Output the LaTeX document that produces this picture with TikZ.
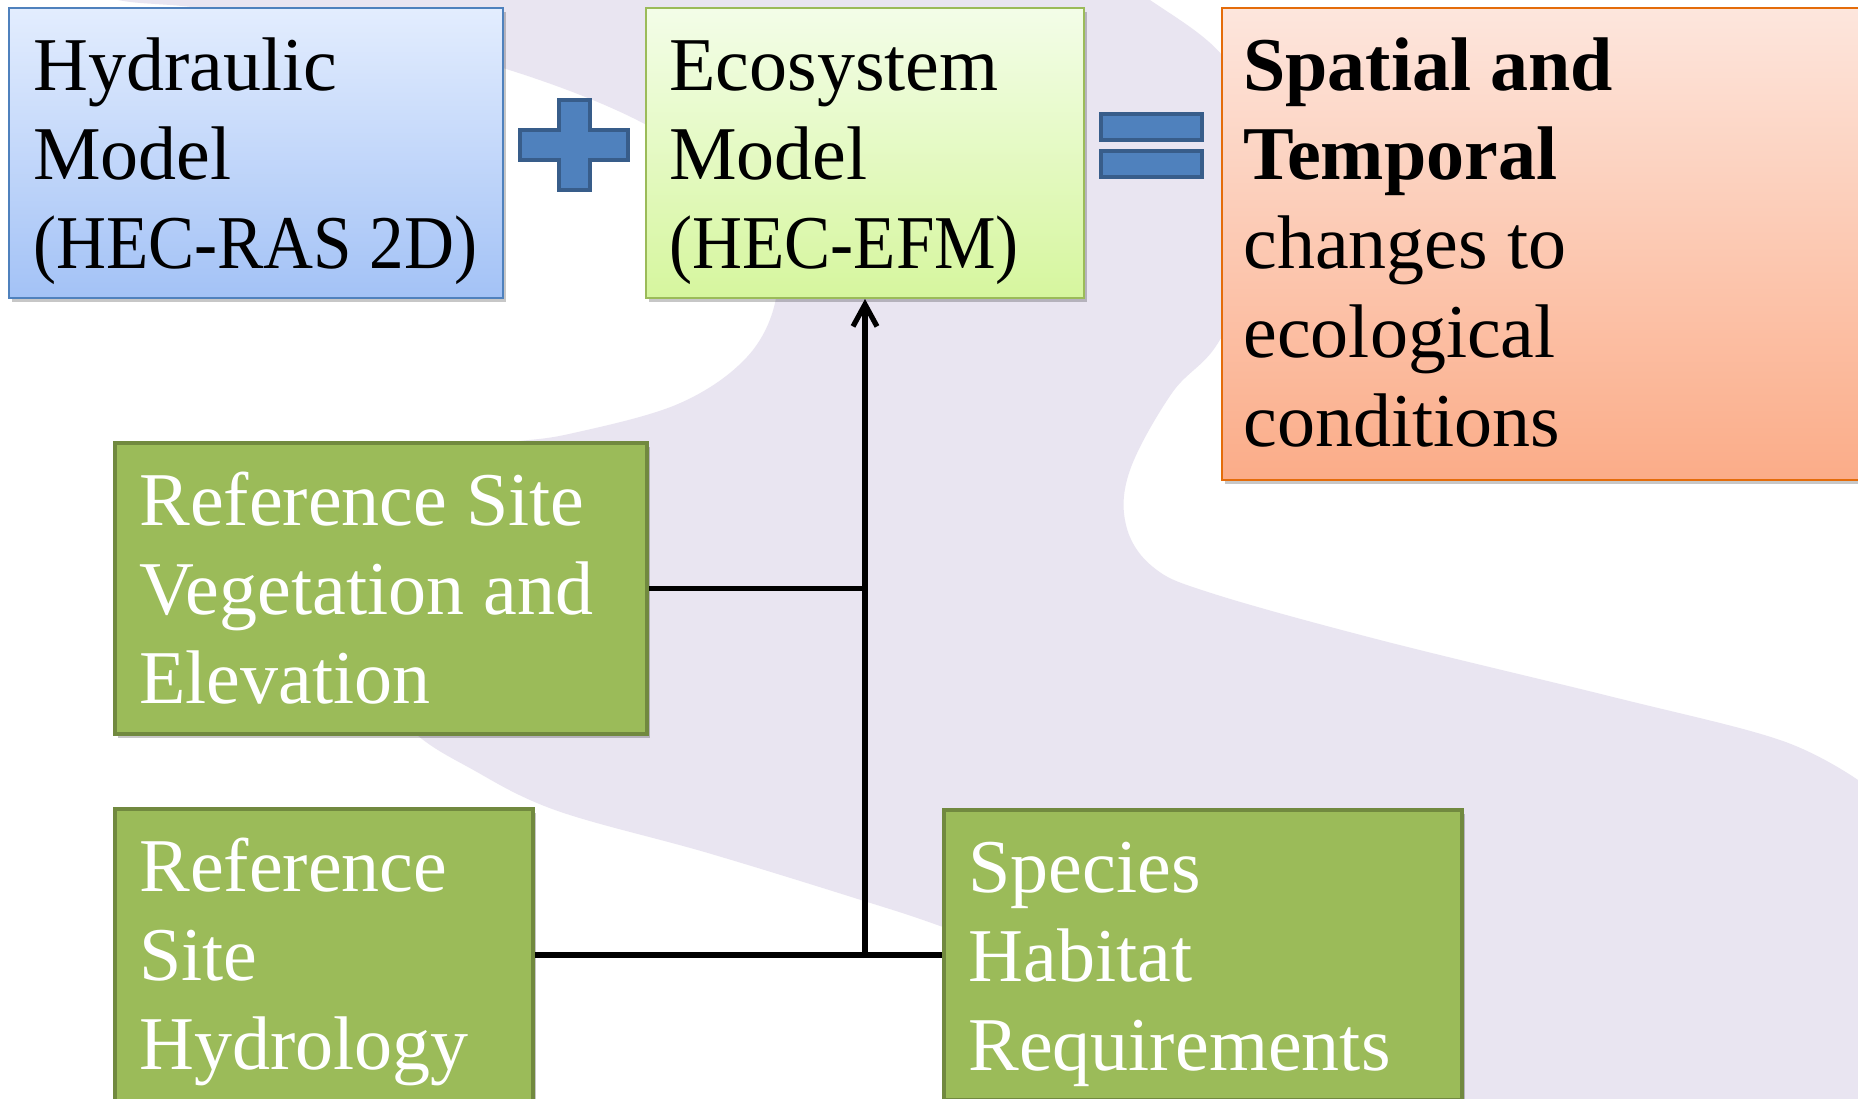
\documentclass[tikz,border=0pt]{standalone}
\usepackage{fontspec}
\usepackage{graphicx}
\setmainfont{Liberation Serif}
\usetikzlibrary{arrows.meta,shadows}
\definecolor{lav}{RGB}{233,229,241}
\definecolor{bluetop}{RGB}{227,237,254}
\definecolor{bluebot}{RGB}{163,194,246}
\definecolor{blueedge}{RGB}{79,129,189}
\definecolor{ecotop}{RGB}{243,253,232}
\definecolor{ecobot}{RGB}{214,246,158}
\definecolor{ecoedge}{RGB}{155,187,89}
\definecolor{restop}{RGB}{253,230,221}
\definecolor{resbot}{RGB}{251,172,136}
\definecolor{resedge}{RGB}{228,108,10}
\definecolor{grfill}{RGB}{155,187,89}
\definecolor{gredge}{RGB}{113,137,63}
\definecolor{symfill}{RGB}{79,129,189}
\definecolor{symedge}{RGB}{56,93,138}
\newcommand\bxtext[1]{\parbox[t]{340pt}{\raggedright\fontsize{38pt}{44.5pt}\selectfont #1}}
\newcommand\narrow[1]{\scalebox{0.91}[1]{#1}}
\begin{document}
\begin{tikzpicture}[x=0.5pt,y=-0.5pt,
  boxshadow/.style={drop shadow={shadow xshift=1.5pt,shadow yshift=-2pt,opacity=0.22,fill=black}},
  panel/.style={rectangle,inner sep=0pt,line width=1pt,boxshadow},
  bluebox/.style={panel,draw=blueedge,top color=bluetop,bottom color=bluebot},
  ecobox/.style={panel,draw=ecoedge,top color=ecotop,bottom color=ecobot},
  resbox/.style={panel,draw=resedge,top color=restop,bottom color=resbot},
  greenbox/.style={panel,draw=gredge,fill=grfill,line width=2pt},
  lbl/.style={anchor=base west,inner sep=0pt},
  conn/.style={line width=2.6pt,black},
  sym/.style={fill=symfill,draw=symedge,line width=1.8pt}]
\useasboundingbox (0,0) rectangle (1858,1098);
\clip (0,0) rectangle (1858,1098);
\fill[white] (0,0) rectangle (1858,1098);
% background band
\fill[lav] plot[smooth,tension=0.6] coordinates {(60,-20) (118,0) (200,8) (350,30) (503,68) (633,118) (720,175) (768,240) (776,298) (747,357) (678,404) (569,434) (506,443) (440,458) (385,510) (360,600) (375,690) (417,735) (468,767) (555,810) (708,853) (861,900) (943,927) (1100,985) (1300,1070) (1400,1130)}
  -- (1900,1130) -- (1900,810)
  -- plot[smooth,tension=0.6] coordinates {(1858,780) (1780,740) (1613,697) (1380,640) (1211,593) (1153,567) (1126,525) (1130,470) (1172,393) (1218,343) (1260,250) (1260,130) (1222,55) (1150,0) (1100,-30)} -- cycle;
% boxes
\node[bluebox,minimum width=247pt,minimum height=145pt] (hyd) at (256,153) {};
\node[ecobox,minimum width=219pt,minimum height=145pt] (eco) at (865,153) {};
\node[resbox,minimum width=339pt,minimum height=236pt] (res) at (1561,244) {};
\node[greenbox,minimum width=266pt,minimum height=145.5pt] (veg) at (381,588.5) {};
\node[greenbox,minimum width=209pt,minimum height=146pt] (hydro) at (324,955) {};
\node[greenbox,minimum width=259pt,minimum height=145pt] (spec) at (1203,955) {};
% plus and equals
\draw[sym] (559,100) -- (590,100) -- (590,130) -- (628,130) -- (628,160) -- (590,160) -- (590,190) -- (559,190) -- (559,160) -- (520,160) -- (520,130) -- (559,130) -- cycle;
\draw[sym,line width=2.2pt] (1101,114) rectangle (1202,140);
\draw[sym,line width=2.2pt] (1101,151) rectangle (1202,177);
% connectors
\coordinate (j1) at (eco.south |- hydro.east);
\draw[conn] (veg.east) -- (veg.east -| eco.south);
\draw[conn] (hydro.east) -- (spec.west);
\draw[conn,-{Straight Barb[length=11pt,width=12pt]}] (j1) -- (eco.south);
% texts
\node[lbl] (hyd-t) at (33,90) {\bxtext{Hydraulic\\Model\\\narrow{(HEC-RAS 2D)}}};
\node[lbl] (eco-t) at (669,90) {\bxtext{Ecosystem\\Model\\\narrow{(HEC-EFM)}}};
\node[lbl] (res-t) at (1243,90) {\bxtext{\textbf{Spatial and}\\\textbf{Temporal}\\changes to\\ecological\\conditions}};
\node[lbl,text=white] (veg-t) at (139,525) {\bxtext{Reference Site\\Vegetation and\\Elevation}};
\node[lbl,text=white] (hydro-t) at (139,891) {\bxtext{Reference\\Site\\Hydrology}};
\node[lbl,text=white] (spec-t) at (968,892) {\bxtext{Species\\Habitat\\Requirements}};
\end{tikzpicture}
\end{document}
